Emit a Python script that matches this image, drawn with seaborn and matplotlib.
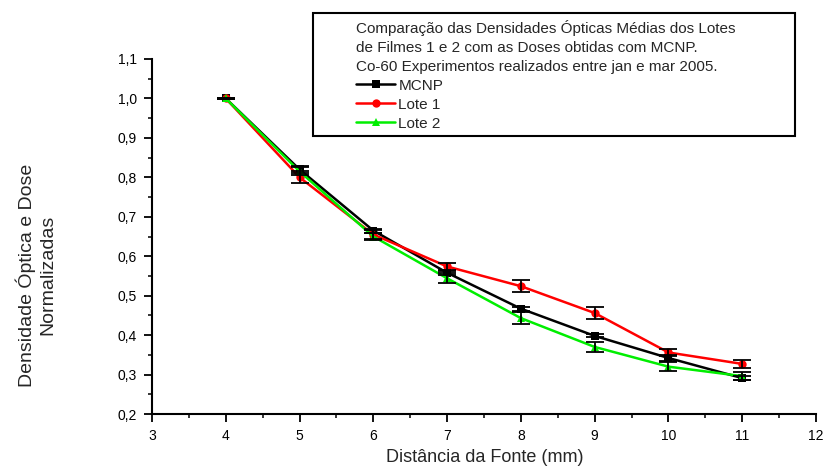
import pandas as pd
import matplotlib
matplotlib.use("Agg")
import matplotlib.pyplot as plt
import seaborn as sns
from matplotlib.patches import Rectangle
from matplotlib.ticker import MultipleLocator, FuncFormatter

distance = [4, 5, 6, 7, 8, 9, 10, 11]

mcnp = [1.000, 0.820, 0.665, 0.558, 0.467, 0.398, 0.342, 0.291]
mcnp_err = [0.002, 0.008, 0.005, 0.005, 0.005, 0.004, 0.007, 0.005]

lote1 = [1.000, 0.800, 0.655, 0.574, 0.524, 0.456, 0.356, 0.327]
lote1_err = [0.002, 0.015, 0.012, 0.010, 0.015, 0.015, 0.010, 0.010]

lote2 = [1.000, 0.815, 0.650, 0.544, 0.443, 0.370, 0.320, 0.296]
lote2_err = [0.002, 0.010, 0.008, 0.013, 0.015, 0.013, 0.012, 0.010]

series = ["MCNP", "Lote 1", "Lote 2"]
colors = {"MCNP": "#000000", "Lote 1": "#ff0000", "Lote 2": "#00ee00"}
markers = {"MCNP": "s", "Lote 1": "o", "Lote 2": "^"}

legend_title = ("Comparação das Densidades Ópticas Médias dos Lotes\n"
                "de Filmes 1 e 2 com as Doses obtidas com MCNP.\n"
                "Co-60 Experimentos realizados entre jan e mar 2005.")

df = pd.concat([
    pd.DataFrame({"x": distance, "y": v, "err": e, "serie": s})
    for s, v, e in zip(series, [mcnp, lote1, lote2], [mcnp_err, lote1_err, lote2_err])
])

sns.set_style("ticks")
plt.rcParams["font.family"] = ["Liberation Sans", "DejaVu Sans"]

fig = plt.figure(figsize=(8.23, 4.72), dpi=100)
ax = fig.add_axes([152 / 823, 1 - 414 / 472, 664 / 823, 355 / 472])

sns.lineplot(data=df, x="x", y="y", hue="serie", style="serie",
             palette=colors, markers=markers, dashes=False,
             markersize=6, markeredgewidth=0, linewidth=1.8,
             ax=ax, legend=False, sort=False)

for s in series:
    d = df[df["serie"] == s]
    ax.errorbar(d["x"], d["y"], yerr=d["err"], fmt="none", ecolor="black",
                elinewidth=1.3, capsize=6.5, capthick=1.3, zorder=5)

ax.set_xlim(3, 12)
ax.set_ylim(0.2, 1.1)
ax.xaxis.set_major_locator(MultipleLocator(1))
ax.xaxis.set_minor_locator(MultipleLocator(0.5))
ax.yaxis.set_major_locator(MultipleLocator(0.1))
ax.yaxis.set_minor_locator(MultipleLocator(0.05))
ax.yaxis.set_major_formatter(FuncFormatter(lambda v, p: f"{v:.1f}".replace(".", ",")))
ax.tick_params(which="major", direction="out", length=6, width=1.3, labelsize=10,
               colors="black", pad=5)
ax.tick_params(which="minor", direction="out", length=3, width=1.3)
sns.despine(ax=ax)
for sp in ["left", "bottom"]:
    ax.spines[sp].set_linewidth(1.5)
    ax.spines[sp].set_color("black")
ax.set_xlabel("")
ax.set_ylabel("")

fig.text(485 / 823, 1 - 457 / 472, "Distância da Fonte (mm)", ha="center", va="center", fontsize=13)
fig.text(36 / 823, 1 - 275 / 472, "Densidade Óptica e Dose\nNormalizadas", ha="center", va="center",
         rotation=90, fontsize=14, multialignment="center", linespacing=1.2)

# legend frame
fig.patches.append(Rectangle((313 / 823, 1 - 136 / 472), 482 / 823, 123 / 472,
                             transform=fig.transFigure, fill=False, edgecolor="black",
                             linewidth=1.5))

handles = [plt.Line2D([], [], color=colors[s], marker=markers[s], markersize=6,
                      markeredgewidth=0, linewidth=1.8) for s in series]
leg = fig.legend(handles, series, loc="upper left", bbox_to_anchor=(348 / 823, 1 - 12 / 472),
                 frameon=False, title=legend_title, alignment="left", fontsize=11,
                 title_fontsize=11, handlelength=2.6, handletextpad=0.2,
                 labelspacing=0.33, borderpad=0.0)
leg.get_title().set_linespacing(1.45)

fig.savefig("out.png", dpi=100)
